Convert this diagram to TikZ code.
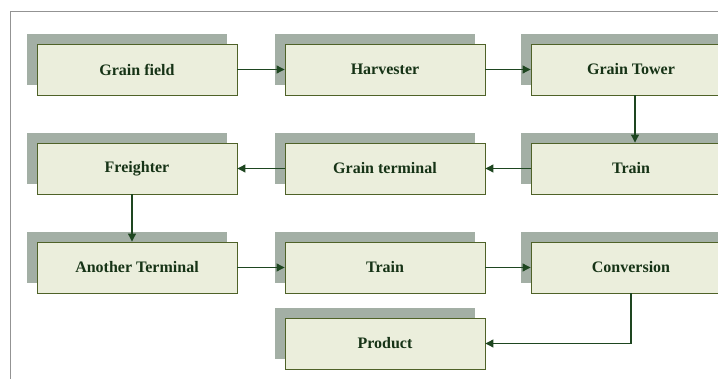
\documentclass[tikz,border=0pt]{standalone}
\usepackage{fontspec}
\setmainfont{Liberation Serif}
\usetikzlibrary{arrows.meta,shadows}

\definecolor{boxfill}{HTML}{EBEEDC}
\definecolor{boxline}{HTML}{4F6228}
\definecolor{boxshade}{HTML}{A3AFA5}
\definecolor{flowgreen}{HTML}{1E4620}
\definecolor{textgreen}{HTML}{163316}

\begin{document}
\begin{tikzpicture}[x=1pt,y=-1pt,font=\fontsize{16}{18}\selectfont\bfseries,
    stage/.style={draw=boxline,line width=0.9pt,fill=boxfill,text=textgreen,
      minimum width=200pt,minimum height=51pt,inner sep=0pt,
      general shadow={shadow xshift=-10pt,shadow yshift=10pt,fill=boxshade,draw=none}},
    flow/.style={draw=flowgreen,line width=1.1pt,-{Triangle[length=8pt,width=8pt]}}]
  \useasboundingbox (0,0) rectangle (718,379);
  \begin{scope}
    \clip (0,0) rectangle (718,379);
    % outer frame
    \draw[gray!85,line width=0.9pt] (10.5,11) rectangle (740,400);
    % Row 1
    \node[stage] (field) at (137,69.5) {Grain field};
    \node[stage] (harv)  at (385,69.5) {Harvester};
    \node[stage] (tower) at (631,69.5) {Grain Tower};
    % Row 2
    \node[stage] (freight) at (137,168.5) {Freighter};
    \node[stage] (gterm)   at (385,168.5) {Grain terminal};
    \node[stage] (train1)  at (631,168.5) {Train};
    % Row 3
    \node[stage] (aterm)  at (137,267.5) {Another Terminal};
    \node[stage] (train2) at (385,267.5) {Train};
    \node[stage] (conv)   at (631,267.5) {Conversion};
    % Row 4
    \node[stage] (prod) at (385,343.5) {Product};
    % connectors
    \draw[flow] (field) -- (harv);
    \draw[flow] (harv) -- (tower);
    \draw[flow] ([xshift=4pt]tower.south) -- ([xshift=4pt]train1.north);
    \draw[flow] (train1) -- (gterm);
    \draw[flow] (gterm) -- (freight);
    \draw[flow] ([xshift=-5pt]freight.south) -- ([xshift=-5pt]aterm.north);
    \draw[flow] (aterm) -- (train2);
    \draw[flow] (train2) -- (conv);
    \draw[flow] (conv.south) |- (prod.east);
  \end{scope}
\end{tikzpicture}
\end{document}
